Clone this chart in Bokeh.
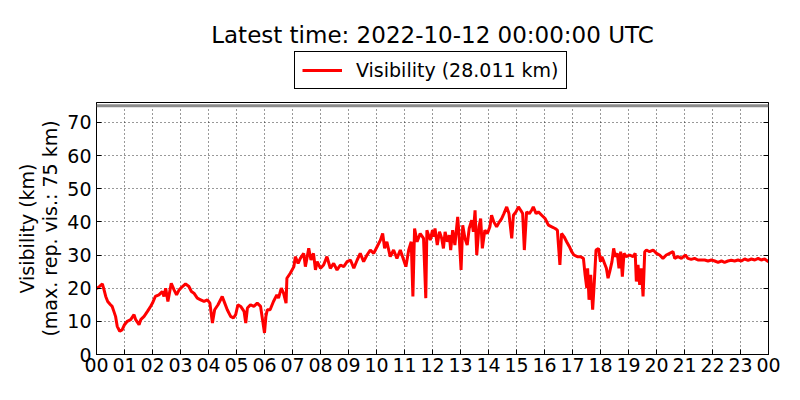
from bokeh.plotting import figure
from bokeh.layouts import column
from bokeh.models import (Span, Legend, LegendItem, Label, FixedTicker,
                          LinearAxis, Range1d)
from bokeh.embed import file_html
from bokeh.resources import INLINE

title_text = "Latest time: 2022-10-12 00:00:00 UTC"
legend_label = "Visibility (28.011 km)"
y_label = "Visibility (km)\n(max. rep. vis.: 75 km)"
max_rep_vis = 75
x_ticks = list(range(25))
x_tick_labels = ["%02d" % (h % 24) for h in x_ticks]
y_ticks = [0, 10, 20, 30, 40, 50, 60, 70]

hours = [
    0.0, 0.03, 0.1, 0.21, 0.27, 0.33, 0.4, 0.5, 0.56, 0.62, 0.68, 0.74, 0.83, 0.92,
    1.0, 1.1, 1.22, 1.34, 1.4, 1.52, 1.58, 1.7, 1.82, 1.93,
    2.0, 2.1, 2.23, 2.35, 2.41, 2.47, 2.55, 2.67, 2.77, 2.86, 2.95,
    3.07, 3.18, 3.3, 3.39, 3.48, 3.6, 3.72, 3.84, 3.96,
    4.05, 4.14, 4.22, 4.34, 4.49, 4.58, 4.67, 4.79, 4.89, 4.97,
    5.05, 5.15, 5.27, 5.33, 5.39, 5.5, 5.62, 5.74, 5.86, 5.93,
    6.0, 6.05, 6.1, 6.2, 6.32, 6.44, 6.5, 6.6, 6.68, 6.77, 6.8, 6.92,
    7.05, 7.1, 7.2, 7.28, 7.4, 7.46, 7.58, 7.66, 7.75, 7.82, 7.88,
    8.0, 8.11, 8.23, 8.35, 8.47, 8.59, 8.71, 8.83, 8.95,
    9.07, 9.19, 9.31, 9.42, 9.54, 9.66, 9.78, 9.9,
    10.02, 10.14, 10.22, 10.29, 10.37, 10.49, 10.61, 10.73, 10.85, 10.97,
    11.05, 11.15, 11.24, 11.3, 11.36, 11.45, 11.56, 11.68, 11.76, 11.8, 11.92,
    12.0, 12.04, 12.09, 12.17, 12.25, 12.33, 12.39, 12.45, 12.53, 12.6, 12.65,
    12.72, 12.8, 12.9, 12.96,
    13.02, 13.08, 13.16, 13.24, 13.31, 13.4, 13.46, 13.52, 13.58, 13.66, 13.72,
    13.78, 13.87, 13.96,
    14.05, 14.11, 14.19, 14.29, 14.39, 14.47, 14.55, 14.65, 14.73, 14.83, 14.89, 14.98,
    15.07, 15.15, 15.22, 15.28, 15.36, 15.46, 15.54, 15.6, 15.7, 15.78, 15.9,
    16.02, 16.14, 16.26, 16.38, 16.46, 16.55, 16.61, 16.7, 16.79, 16.89, 16.97,
    17.05, 17.17, 17.29, 17.39, 17.45, 17.51, 17.54, 17.59, 17.65, 17.72, 17.78,
    17.84, 17.93,
    18.0, 18.05, 18.12, 18.21, 18.27, 18.33, 18.41, 18.47, 18.53, 18.6, 18.66,
    18.72, 18.78, 18.84, 18.92,
    19.04, 19.16, 19.24, 19.28, 19.34, 19.4, 19.46, 19.52, 19.58, 19.64, 19.75, 19.88,
    20.0, 20.11, 20.23, 20.35, 20.47, 20.59, 20.65, 20.77, 20.89,
    21.03, 21.12, 21.24, 21.36, 21.48, 21.6, 21.72, 21.84, 21.96,
    22.08, 22.2, 22.32, 22.43, 22.55, 22.67, 22.79, 22.91,
    23.03, 23.15, 23.27, 23.39, 23.51, 23.63, 23.74, 23.86, 24.0,
]

visibility = [
    20.0, 20.0, 20.5, 21.3, 19.5, 17.5, 16.0, 15.0, 14.5, 13.0, 11.5, 8.5, 7.0, 7.5,
    9.0, 10.0, 10.5, 12.0, 10.5, 9.0, 10.5, 11.5, 13.0, 14.5,
    15.5, 17.5, 18.0, 19.0, 17.5, 20.0, 16.0, 21.5, 19.5, 18.0, 19.5,
    20.5, 21.3, 20.5, 19.0, 18.5, 17.0, 16.5, 16.0, 16.5,
    15.5, 9.5, 13.5, 15.0, 17.5, 15.5, 13.5, 11.5, 11.0, 12.0,
    15.0, 14.5, 13.0, 9.5, 14.0, 15.0, 14.5, 15.5, 14.5, 10.5,
    6.5, 11.5, 13.5, 13.5, 16.0, 18.0, 17.0, 20.0, 18.5, 15.5, 23.0, 24.5,
    26.5, 29.5, 27.5, 29.0, 30.5, 26.5, 32.0, 28.5, 30.5, 25.5, 28.0,
    26.0, 27.0, 29.5, 26.0, 27.5, 25.5, 27.0, 26.5, 28.0,
    28.5, 26.0, 28.5, 30.5, 28.0, 30.0, 31.5, 30.5,
    32.5, 34.5, 36.5, 32.0, 34.0, 29.5, 31.5, 29.0, 31.5, 28.5,
    26.5, 31.5, 34.0, 17.5, 38.0, 34.0, 36.5, 35.0, 17.0, 37.5, 34.5,
    37.5, 35.5, 38.0, 33.0, 37.0, 35.0, 32.0, 37.0, 34.0, 36.0, 31.5,
    37.5, 33.0, 41.5, 34.5,
    25.5, 39.0, 35.0, 33.0, 38.0, 40.5, 37.0, 43.5, 30.0, 38.5, 41.0,
    32.0, 37.5, 36.5,
    38.5, 42.0, 40.0, 38.5, 40.0, 41.0, 42.5, 44.5, 42.5, 35.0, 42.0, 43.0,
    44.5, 43.5, 42.5, 31.5, 43.0, 42.5, 43.5, 44.5, 42.5, 43.0, 42.0,
    41.0, 39.0, 38.5, 38.0, 37.5, 27.0, 36.5, 35.5, 34.0, 32.5, 31.0,
    30.0, 29.5, 29.5, 29.0, 24.0, 20.0, 26.0, 16.5, 24.0, 13.5, 22.0,
    31.5, 32.0,
    28.0, 29.5, 28.0, 26.0, 23.0, 25.0, 28.0, 32.0, 29.5, 30.5, 26.0,
    31.0, 23.5, 30.5, 29.5,
    30.0, 29.5, 30.5, 22.0, 27.0, 21.0, 26.0, 17.5, 31.0, 31.5, 31.0, 31.5,
    30.5, 30.0, 29.0, 30.0, 30.5, 31.0, 29.0, 29.5, 29.0,
    30.0, 29.0, 28.7, 29.0, 28.5, 28.5, 28.5, 28.2, 28.5,
    28.2, 27.8, 28.2, 27.8, 28.2, 28.4, 28.2, 28.5,
    28.2, 28.8, 28.4, 28.8, 28.5, 29.0, 28.5, 28.8, 28.0,
]

FONT = "DejaVu Sans"
FS = "19px"
LINE_COLOR = "#ff0000"
LINE_W = 3
NAN = float("nan")

# ---- header (title + legend) ----
head = figure(frame_width=672, frame_height=100, output_backend="svg",
              toolbar_location=None, x_range=Range1d(0, 672),
              y_range=Range1d(0, 100), x_axis_location=None,
              y_axis_location=None, min_border_left=96, min_border_right=24,
              min_border_top=0, min_border_bottom=0, title=None)
head.outline_line_color = None
head.xgrid.visible = False
head.ygrid.visible = False
head.background_fill_color = "white"
head.border_fill_color = "white"
proxy = head.line(x=[NAN], y=[NAN], line_color=LINE_COLOR, line_width=LINE_W)
legend = Legend(items=[LegendItem(label=legend_label, renderers=[proxy])],
                location=(198, 11), orientation="horizontal",
                border_line_color="black", border_line_width=1,
                border_line_alpha=1,
                label_text_font=FONT, label_text_font_size=FS,
                label_text_color="black",
                glyph_width=40, glyph_height=20, label_height=20,
                label_standoff=14, padding=7, margin=0,
                background_fill_alpha=1)
head.add_layout(legend, "center")
head.add_layout(Label(x=336, y=66, x_units="screen", y_units="screen",
                      text=title_text, text_align="center",
                      text_baseline="middle", text_font=FONT,
                      text_font_size="23px", text_color="black"))

# ---- main chart ----
p = figure(frame_width=672, frame_height=252, output_backend="svg",
           toolbar_location=None,
           x_range=Range1d(0, 24), y_range=Range1d(0, 76),
           min_border_left=96, min_border_right=24, min_border_top=2,
           min_border_bottom=38, title=None)
p.outline_line_color = "black"
p.outline_line_width = 1
p.background_fill_color = "white"
p.border_fill_color = "white"

p.line(hours, visibility, line_color=LINE_COLOR, line_width=LINE_W)

p.add_layout(Span(location=max_rep_vis, dimension="width",
                  line_color="#8c8c8c", line_width=3))

p.xaxis.ticker = FixedTicker(ticks=x_ticks)
p.xaxis.major_label_overrides = {t: l for t, l in zip(x_ticks, x_tick_labels)}
p.yaxis.ticker = FixedTicker(ticks=y_ticks)
for ax in (p.xaxis[0], p.yaxis[0]):
    ax.major_tick_in = 5
    ax.major_tick_out = 0
    ax.minor_tick_in = 0
    ax.minor_tick_out = 0
    ax.axis_line_color = "black"
    ax.major_tick_line_color = "black"
    ax.major_label_text_font = FONT
    ax.major_label_text_font_size = FS
    ax.major_label_text_color = "black"
p.xaxis.major_label_standoff = 3
p.yaxis.major_label_standoff = 5
p.yaxis.axis_label = y_label
p.yaxis.axis_label_text_font = FONT
p.yaxis.axis_label_text_font_size = FS
p.yaxis.axis_label_text_font_style = "normal"
p.yaxis.axis_label_text_color = "black"
p.yaxis.axis_label_text_line_height = 1.05
p.yaxis.axis_label_standoff = 3

right_ax = LinearAxis(ticker=FixedTicker(ticks=y_ticks), major_tick_in=5,
                      major_tick_out=0, minor_tick_in=0, minor_tick_out=0,
                      major_label_text_color=None, major_label_standoff=0,
                      axis_line_color="black")
p.add_layout(right_ax, "right")

p.xgrid.ticker = FixedTicker(ticks=x_ticks)
p.ygrid.ticker = FixedTicker(ticks=y_ticks)
for g in (p.xgrid[0], p.ygrid[0]):
    g.grid_line_color = "black"
    g.grid_line_dash = "1 3"
    g.grid_line_width = 1
    g.grid_line_alpha = 0.8

layout = column(head, p, spacing=0)
open("out.html", "w").write(file_html(layout, INLINE))
